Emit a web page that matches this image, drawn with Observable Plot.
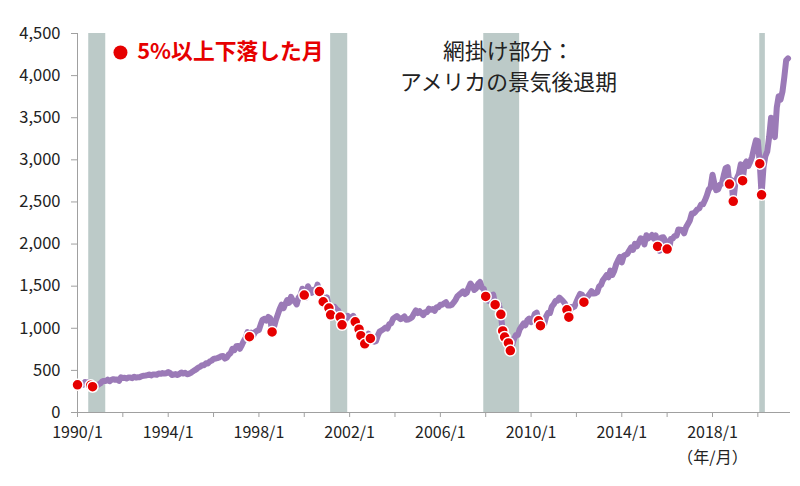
<!DOCTYPE html>
<html><head><meta charset="utf-8">
<script src="https://cdn.jsdelivr.net/npm/d3@7"></script>
<script src="https://cdn.jsdelivr.net/npm/@observablehq/plot@0.6"></script>
<style>body{margin:0;background:#fff}</style>
</head><body><div id="chart"></div>
<script>
// S&P 500 month-end closes, starting 1990/1
const startYear = 1990;
const sp500 = [
 329.08,331.89,339.94,330.80,361.23,358.02,356.15,322.56,306.05,304.00,322.22,330.22, // 1990
 343.93,367.07,375.22,375.35,389.83,371.16,387.81,395.43,387.86,392.46,375.22,417.09, // 1991
 408.79,412.70,403.69,414.95,415.35,408.14,424.21,414.03,417.80,418.68,431.35,435.71, // 1992
 438.78,443.38,451.67,440.19,450.19,450.53,448.13,463.56,458.93,467.83,461.79,466.45, // 1993
 481.61,467.14,445.77,450.91,456.50,444.27,458.26,475.49,462.69,472.35,453.69,459.27, // 1994
 470.42,487.39,500.71,514.71,533.40,544.75,562.06,561.88,584.41,581.50,605.37,615.93, // 1995
 636.02,640.43,645.50,654.17,669.12,670.63,639.95,651.99,687.33,705.27,757.02,740.74, // 1996
 786.16,790.82,757.12,801.34,848.28,885.14,954.29,899.47,947.28,914.62,955.40,970.43, // 1997
 980.28,1049.34,1101.75,1111.75,1090.82,1133.84,1120.67,957.28,1017.01,1098.67,1163.63,1229.23, // 1998
 1279.64,1238.33,1286.37,1335.18,1301.84,1372.71,1328.72,1320.41,1282.71,1362.93,1388.91,1469.25, // 1999
 1394.46,1366.42,1498.58,1452.43,1420.60,1454.60,1430.83,1517.68,1436.51,1429.40,1314.95,1320.28, // 2000
 1366.01,1239.94,1160.33,1249.46,1255.82,1224.42,1211.23,1133.58,1040.94,1059.78,1139.45,1148.08, // 2001
 1130.20,1106.73,1147.39,1076.92,1067.14,989.82,911.62,916.07,815.28,885.76,936.31,879.82, // 2002
 855.70,841.15,848.18,916.92,963.59,974.50,990.31,1008.01,995.97,1050.71,1058.20,1111.92, // 2003
 1131.13,1144.94,1126.21,1107.30,1120.68,1140.84,1101.72,1104.24,1114.58,1130.20,1173.82,1211.92, // 2004
 1181.27,1203.60,1180.59,1156.85,1191.50,1191.33,1234.18,1220.33,1228.81,1207.01,1249.48,1248.29, // 2005
 1280.08,1280.66,1294.83,1310.61,1270.09,1270.20,1276.66,1303.82,1335.85,1377.94,1400.63,1418.30, // 2006
 1438.24,1406.82,1420.86,1482.37,1530.62,1503.35,1455.27,1473.99,1526.75,1549.38,1481.14,1468.36, // 2007
 1378.55,1330.63,1322.70,1385.59,1400.38,1280.00,1267.38,1282.83,1166.36,968.75,896.24,903.25, // 2008
 825.88,735.09,797.87,872.81,919.14,919.32,987.48,1020.62,1057.08,1036.19,1095.63,1115.10, // 2009
 1073.87,1104.49,1169.43,1186.69,1089.41,1030.71,1101.60,1049.33,1141.20,1183.26,1180.55,1257.64, // 2010
 1286.12,1327.22,1325.83,1363.61,1345.20,1320.64,1292.28,1218.89,1131.42,1253.30,1246.96,1257.60, // 2011
 1312.41,1365.68,1408.47,1397.91,1310.33,1362.16,1379.32,1406.58,1440.67,1412.16,1416.18,1426.19, // 2012
 1498.11,1514.68,1569.19,1597.57,1630.74,1606.28,1685.73,1632.97,1681.55,1756.54,1805.81,1848.36, // 2013
 1782.59,1859.45,1872.34,1883.95,1923.57,1960.23,1930.67,2003.37,1972.29,2018.05,2067.56,2058.90, // 2014
 1994.99,2104.50,2067.89,2085.51,2107.39,2063.11,2103.84,1972.18,1920.03,2079.36,2080.41,2043.94, // 2015
 1940.24,1932.23,2059.74,2065.30,2096.95,2098.86,2173.60,2170.95,2168.27,2126.15,2198.81,2238.83, // 2016
 2278.87,2363.64,2362.72,2384.20,2411.80,2423.41,2470.30,2471.65,2519.36,2575.26,2647.58,2673.61, // 2017
 2823.81,2713.83,2640.87,2648.05,2705.27,2718.37,2816.29,2901.52,2913.98,2711.74,2760.17,2506.85, // 2018
 2704.10,2784.49,2834.40,2945.83,2752.06,2941.76,2980.38,2926.46,2976.74,3037.56,3140.98,3230.78, // 2019
 3225.52,2954.22,2584.59,2912.43,3044.31,3100.29,3271.12,3500.31,3363.00,3269.96,3621.63,3756.07, // 2020
 3714.24,3811.15,3972.89,4181.17,4204.11 // 2021
];

// months with a fall of 5% or more
const dropMonths = [
 "1990-01","1990-08","1990-09","1997-08","1998-08","2000-01","2000-09","2000-11",
 "2001-02","2001-03","2001-08","2001-09","2002-04","2002-06","2002-07","2002-09","2002-12",
 "2008-01","2008-06","2008-09","2008-10","2008-11","2009-01","2009-02",
 "2010-05","2010-06","2011-08","2011-09","2012-05","2015-08","2016-01",
 "2018-10","2018-12","2019-05","2020-02","2020-03"
];

// US recessions (start month, first month after end)
const recessions = [["1990-07","1991-04"],["2001-03","2001-12"],["2007-12","2009-07"],["2020-02","2020-05"]];

const tickYears = [1990,1992,1994,1996,1998,2000,2002,2004,2006,2008,2010,2012,2014,2016,2018,2020];
const labelYears = [1990,1994,1998,2002,2006,2010,2014,2018];
const yTicks = [0,500,1000,1500,2000,2500,3000,3500,4000,4500];

const legendLabel = "5%以上下落した月";
const noteLabel = "網掛け部分：\nアメリカの景気後退期";
const unitLabel = "（年/月）";

const parse = s => { const [y, m] = s.split("-").map(Number); return new Date(Date.UTC(y, m - 1, 1)); };
const keyOf = d => `${d.getUTCFullYear()}-${String(d.getUTCMonth() + 1).padStart(2, "0")}`;
const series = sp500.map((v, i) => ({date: new Date(Date.UTC(startYear, i, 1)), value: v}));
const byKey = new Map(series.map(d => [keyOf(d.date), d]));
const drops = dropMonths.map(k => byKey.get(k));
const bands = recessions.map(([a, b]) => ({start: parse(a), end: parse(b)}));

const red = "#e60000";
const chart = Plot.plot({
  width: 800, height: 486,
  marginLeft: 77, marginRight: 10, marginTop: 33, marginBottom: 74,
  style: {fontFamily: '"Noto Sans CJK JP", sans-serif', fontSize: "16px", color: "#222", background: "#fff"},
  x: {type: "utc", domain: [new Date(Date.UTC(1990, 0, 1)), new Date(Date.UTC(2021, 5, 10))], axis: null},
  y: {domain: [0, 4500], axis: null},
  marks: [
    Plot.rect(bands, {x1: "start", x2: "end", fill: "#bccac8"}),
    Plot.ruleY([0], {stroke: "#a0a0a0"}),
    Plot.ruleX([new Date(Date.UTC(1990, 0, 1))], {stroke: "#a0a0a0"}),
    Plot.axisY({ticks: yTicks, label: null, tickSize: 6, tickPadding: 11, tickFormat: d3.format(","), stroke: "#a0a0a0", fill: "#222", fontSize: 16.5}),
    Plot.axisX({ticks: tickYears.map(y => new Date(Date.UTC(y, 0, 1))), label: null, tickSize: 5, tickPadding: 9,
      tickFormat: d => labelYears.includes(d.getUTCFullYear()) ? `${d.getUTCFullYear()}/1` : "",
      stroke: "#a0a0a0", fill: "#222", fontSize: 16}),
    Plot.text([unitLabel], {x: () => new Date(Date.UTC(2018, 0, 1)), frameAnchor: "bottom", dy: 50, fontSize: 16, fill: "#222"}),
    Plot.lineY(series, {x: "date", y: "value", stroke: "#9b7ab7", strokeWidth: 6, strokeLinejoin: "round", strokeLinecap: "round"}),
    Plot.dot(drops, {x: "date", y: "value", r: 5.5, fill: red, stroke: "white", strokeWidth: 1.5}),
    Plot.dot([legendLabel], {x: () => new Date(Date.UTC(1991, 10, 24)), y: () => 4275, r: 7, fill: red}),
    Plot.text([legendLabel], {x: () => new Date(Date.UTC(1992, 7, 20)), y: () => 4275, textAnchor: "start", fontSize: 21.8, fontWeight: "bold", fill: red}),
    Plot.text([noteLabel], {frameAnchor: "top-left", dx: 431, dy: 31, lineAnchor: "middle", textAnchor: "middle", lineHeight: 1.45, fontSize: 21.8, fill: "#222"})
  ]
});
document.getElementById("chart").appendChild(chart);
</script>
</body></html>
